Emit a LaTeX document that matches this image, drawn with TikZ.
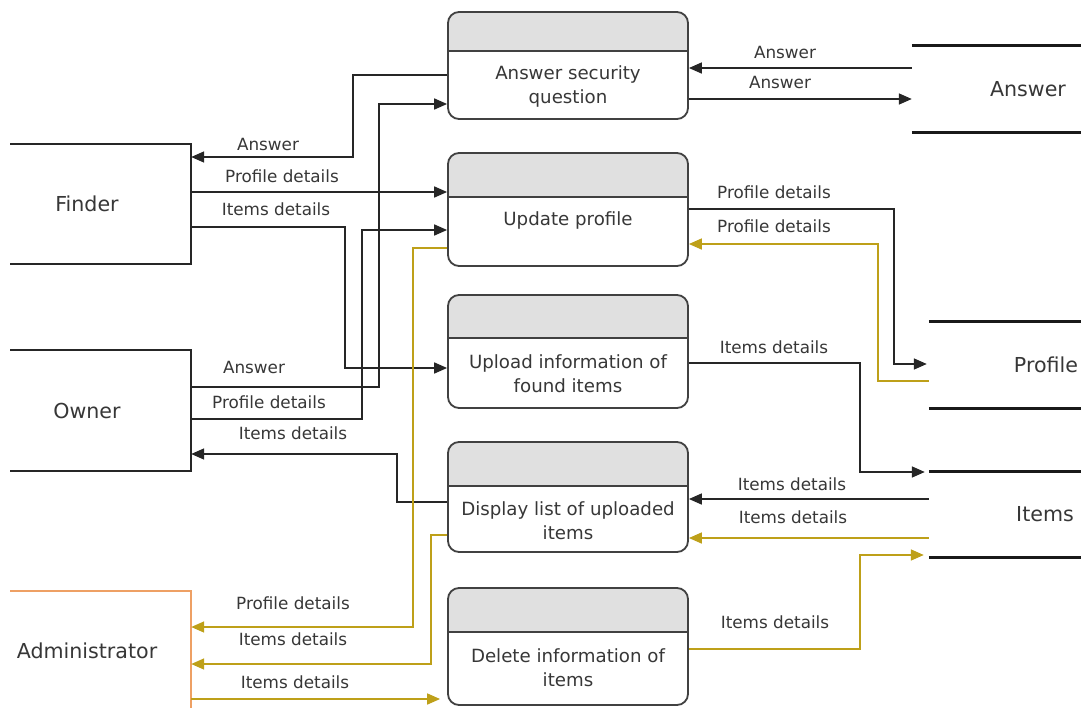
\documentclass[tikz,border=0pt]{standalone}
\usepackage{fontspec}
\setmainfont{DejaVu Sans}
\usetikzlibrary{arrows.meta}
\definecolor{gold}{RGB}{190,160,25}
\definecolor{adminor}{RGB}{238,160,100}
\definecolor{hdrgray}{RGB}{224,224,224}
\definecolor{txtgray}{RGB}{55,55,55}
\definecolor{lngray}{RGB}{65,65,65}
\tikzset{
  flow/.style={draw=black!85, line width=1.7pt, -{Triangle[length=13pt,width=11pt]}},
  gflow/.style={flow, draw=gold},
  lbl/.style={font=\fontsize{16.8}{19}\selectfont, text=txtgray, inner sep=0pt},
  procshape/.style={draw=lngray, line width=1.8pt, rounded corners=11pt, minimum width=240pt, inner sep=0pt},
  procline/.style={draw=lngray, line width=1.8pt},
  proctext/.style={font=\fontsize{18.2}{24}\selectfont, text=txtgray, align=center, inner sep=0pt},
  entity/.style={font=\fontsize{20.6}{24}\selectfont, text=txtgray, inner sep=0pt},
  entline/.style={draw=black!85, line width=1.8pt},
  storeline/.style={draw=black!90, line width=2.8pt},
}
\newcommand\procbox[6]{%
  \pgfmathsetmacro\pcy{(#2+#4)/2}\pgfmathsetmacro\pch{#4-#2}%
  \begin{scope}
    \clip[rounded corners=11pt] (448,#2) rectangle (688,#4);
    \fill[hdrgray] (448,#2) rectangle (688,#3);
  \end{scope}
  \node[procshape, minimum height=\pch pt] (#1) at (568,\pcy) {};
  \draw[procline] (#1.west |- 0,#3) -- (#1.east |- 0,#3);
  \node[proctext] (#1t) at (568,#6) {#5};
}
\begin{document}
\begin{tikzpicture}[x=1pt,y=-1pt]
\useasboundingbox (0,0) rectangle (1081,707);
\clip (0,0) rectangle (1081,707);
\fill[white] (0,0) rectangle (1081,707);

% processes
\procbox{p1}{12}{51}{119}{Answer security\\question}{86}
\procbox{p2}{153}{197}{266}{Update profile}{220}
\procbox{p3}{295}{338}{408}{Upload information of\\found items}{374}
\procbox{p4}{442}{486}{552}{Display list of uploaded\\items}{521}
\procbox{p5}{588}{632}{705}{Delete information of\\items}{668}

% external entities
\node[entity, minimum width=208pt, minimum height=120pt] (finder) at (87,204) {Finder};
\draw[entline] (10,0 |- finder.north west) -- (finder.north east) -- (finder.south east) -- (10,0 |- finder.south west);
\node[entity, minimum width=208pt, minimum height=121pt] (owner) at (87,410.5) {Owner};
\draw[entline] (10,0 |- owner.north west) -- (owner.north east) -- (owner.south east) -- (10,0 |- owner.south west);
\node[entity, minimum width=208pt, minimum height=120pt] (admin) at (87,651) {Administrator};
\draw[entline, draw=adminor] (10,0 |- admin.north west) -- (admin.north east) -- (admin.south east) -- (10,0 |- admin.south west);

% data stores
\node[entity, minimum width=232pt, minimum height=86pt] (ansS) at (1028,89) {Answer};
\draw[storeline] (ansS.north west) -- (ansS.north east);
\draw[storeline] (ansS.south west) -- (ansS.south east);
\node[entity, minimum width=234pt, minimum height=86pt] (profS) at (1046,365) {Profile};
\draw[storeline] (profS.north west) -- (profS.north east);
\draw[storeline] (profS.south west) -- (profS.south east);
\node[entity, minimum width=232pt, minimum height=85pt] (itemS) at (1045,514.5) {Items};
\draw[storeline] (itemS.north west) -- (itemS.north east);
\draw[storeline] (itemS.south west) -- (itemS.south east);

% black flows, left
\draw[flow] (p1.west |- 0,75) -- (353,75) -- (353,157) -- (finder.east |- 0,157);
\node[lbl] (l1) at (268,144) {Answer};
\draw[flow] (finder.east |- 0,192) -- (p2.west |- 0,192);
\node[lbl] (l2) at (282,176) {Profile details};
\draw[flow] (finder.east |- 0,227) -- (345,227) -- (345,368) -- (p3.west |- 0,368);
\node[lbl] (l3) at (276,209) {Items details};
\draw[flow] (owner.east |- 0,387) -- (379,387) -- (379,104) -- (p1.west |- 0,104);
\node[lbl] (l4) at (254,367) {Answer};
\draw[flow] (owner.east |- 0,419) -- (362,419) -- (362,230) -- (p2.west |- 0,230);
\node[lbl] (l5) at (269,402) {Profile details};
\draw[flow] (p4.west |- 0,502) -- (397,502) -- (397,454) -- (owner.east |- 0,454);
\node[lbl] (l6) at (293,433) {Items details};

% black flows, right
\draw[flow] (ansS.west |- 0,68) -- (p1.east |- 0,68);
\node[lbl] (l7) at (785,52) {Answer};
\draw[flow] (p1.east |- 0,99) -- (ansS.west |- 0,99);
\node[lbl] (l8) at (780,82) {Answer};
\draw[flow] (p2.east |- 0,209) -- (894,209) -- (894,364) -- ([xshift=-2pt]profS.west |- 0,364);
\node[lbl] (l9) at (774,192) {Profile details};
\draw[flow] (p3.east |- 0,363) -- (860,363) -- (860,472) -- ([xshift=-4pt]itemS.west |- 0,472);
\node[lbl] (l10) at (774,347) {Items details};
\draw[flow] (itemS.west |- 0,499) -- (p4.east |- 0,499);
\node[lbl] (l11) at (792,484) {Items details};

% gold flows
\draw[gflow] (p2.west |- 0,248) -- (413,248) -- (413,627) -- (admin.east |- 0,627);
\node[lbl] (l12) at (293,603) {Profile details};
\draw[gflow] (p4.west |- 0,535) -- (431,535) -- (431,664) -- (admin.east |- 0,664);
\node[lbl] (l13) at (293,639) {Items details};
\draw[gflow] (admin.east |- 0,699) -- ([xshift=-7pt]p5.west |- 0,699);
\node[lbl] (l14) at (295,682) {Items details};
\draw[gflow] (profS.west |- 0,381) -- (878,381) -- (878,244) -- (p2.east |- 0,244);
\node[lbl] (l15) at (774,226) {Profile details};
\draw[gflow] (itemS.west |- 0,538) -- (p4.east |- 0,538);
\node[lbl] (l16) at (793,517) {Items details};
\draw[gflow] (p5.east |- 0,649) -- (860,649) -- (860,555) -- ([xshift=-5pt]itemS.west |- 0,555);
\node[lbl] (l17) at (775,622) {Items details};
\end{tikzpicture}
\end{document}
